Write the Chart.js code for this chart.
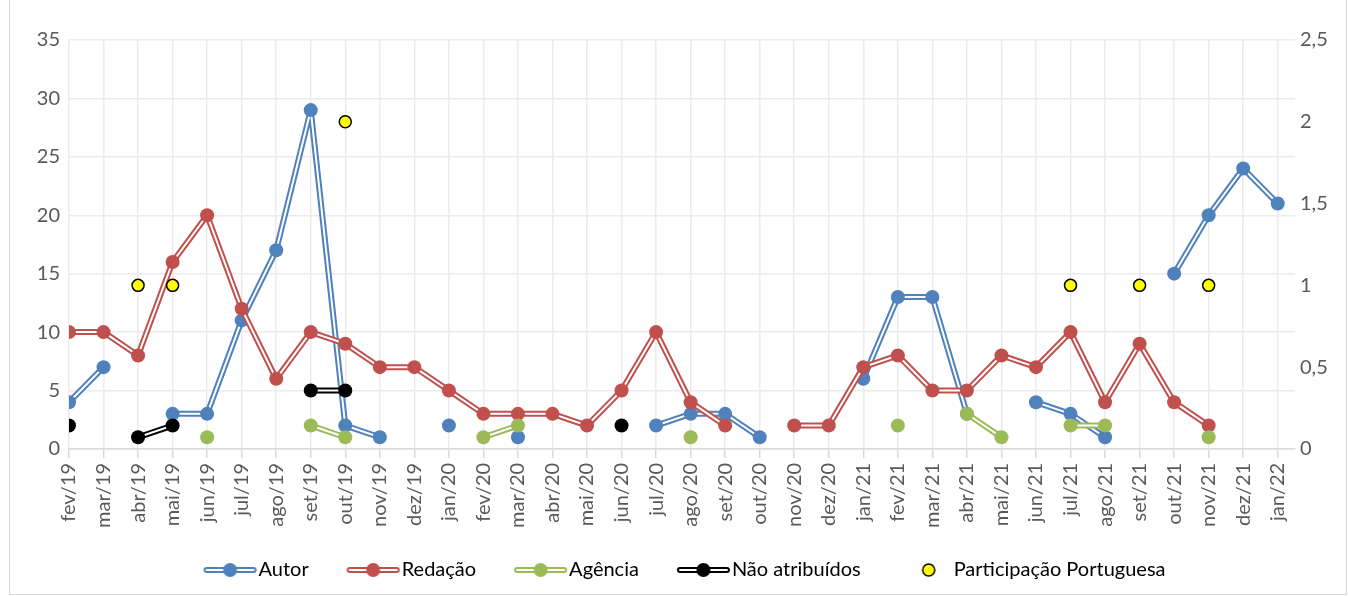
<!DOCTYPE html>
<html>
<head>
<meta charset="utf-8">
<script src="https://cdn.jsdelivr.net/npm/chart.js@4.4.1/dist/chart.umd.min.js"></script>
<style>
  html, body { margin: 0; padding: 0; background: #fff; }
  #frame { position: absolute; left: 9px; top: -1px; width: 1338px; height: 596px; border: 1px solid #d9d9d9; box-sizing: border-box; }
  #wrap { position: absolute; left: 0; top: 0; width: 1348px; height: 596px; }
</style>
</head>
<body>
<div id="frame"></div>
<div id="wrap"><canvas id="chart" width="1348" height="596"></canvas></div>
<script>
// months, fev/19 .. jan/22
const months = ['fev/19', 'mar/19', 'abr/19', 'mai/19', 'jun/19', 'jul/19', 'ago/19', 'set/19', 'out/19', 'nov/19', 'dez/19',
	'jan/20', 'fev/20', 'mar/20', 'abr/20', 'mai/20', 'jun/20', 'jul/20', 'ago/20', 'set/20', 'out/20', 'nov/20', 'dez/20',
	'jan/21', 'fev/21', 'mar/21', 'abr/21', 'mai/21', 'jun/21', 'jul/21', 'ago/21', 'set/21', 'out/21', 'nov/21', 'dez/21',
	'jan/22'];

const autor = [4, 7, null, 3, 3, 11, 17, 29, 2, 1, null,
	2, null, 1, null, null, null, 2, 3, 3, 1, null, null,
	6, 13, 13, 3, null, 4, 3, 1, null, 15, 20, 24,
	21];

const redacao = [10, 10, 8, 16, 20, 12, 6, 10, 9, 7, 7,
	5, 3, 3, 3, 2, 5, 10, 4, 2, null, 2, 2,
	7, 8, 5, 5, 8, 7, 10, 4, 9, 4, 2, null,
	null];

const agencia = [null, null, null, null, 1, null, null, 2, 1, null, null,
	null, 1, 2, null, null, null, null, 1, null, null, null, null,
	null, 2, null, 3, 1, null, 2, 2, null, null, 1, null,
	null];

const naoAtribuidos = [2, null, 1, 2, null, null, null, 5, 5, null, null,
	null, null, null, null, null, 2, null, null, null, null, null, null,
	null, null, null, null, null, null, null, null, null, null, null, null,
	null];

// right axis
const participacao = [null, null, 1, 1, null, null, null, null, 2, null, null,
	null, null, null, null, null, null, null, null, null, null, null, null,
	null, null, null, null, null, null, 1, null, 1, null, 1, null,
	null];

const leftTicks = [0, 5, 10, 15, 20, 25, 30, 35];
const rightTicks = [0, 0.5, 1, 1.5, 2, 2.5];

const textColor = '#595959';
const gridColor = '#ebebeb';
const axisColor = '#d9d9d9';
const fontFamily = 'Lato, "Noto Sans", sans-serif';
const fontSize = 20;

function toPoints(values) {
	return values.map((v, i) => ({ x: i, y: v }));
}

// Excel "double" line: thick coloured stroke, thin white core, markers on top
function doubleLine(label, values, color, base) {
	const pts = toPoints(values);
	return [
		{ label: label, data: pts, borderColor: color, borderWidth: 6, borderJoinStyle: 'round', pointRadius: 0, fill: false, order: base + 2, yAxisID: 'y' },
		{ label: label + ' core', data: pts, borderColor: '#ffffff', borderWidth: 2, borderJoinStyle: 'round', pointRadius: 0, fill: false, order: base + 1, yAxisID: 'y' },
		{ label: label + ' marks', data: pts, showLine: false, pointRadius: 7, pointHoverRadius: 7, pointBackgroundColor: color, pointBorderColor: color, pointBorderWidth: 0, order: base, yAxisID: 'y' }
	];
}

// legend icons: 74px canvas, drawing sits in the right part so it hugs the text
function lineIcon(color) {
	const c = document.createElement('canvas');
	c.width = 74;
	c.height = 16;
	const g = c.getContext('2d');
	g.lineCap = 'round';
	g.strokeStyle = color;
	g.lineWidth = 6;
	g.beginPath(); g.moveTo(23, 8); g.lineTo(70, 8); g.stroke();
	g.strokeStyle = '#ffffff';
	g.lineWidth = 2;
	g.beginPath(); g.moveTo(23, 8); g.lineTo(70, 8); g.stroke();
	g.fillStyle = color;
	g.beginPath(); g.arc(46.5, 8, 7, 0, Math.PI * 2); g.fill();
	return c;
}

function dotIcon() {
	const c = document.createElement('canvas');
	c.width = 74;
	c.height = 16;
	const g = c.getContext('2d');
	g.fillStyle = '#ffff00';
	g.strokeStyle = '#000000';
	g.lineWidth = 1.5;
	g.beginPath(); g.arc(50, 8, 6, 0, Math.PI * 2); g.fill(); g.stroke();
	return c;
}

const series = [
	{ label: 'Autor', data: autor, color: '#4f81bd', base: 40 },
	{ label: 'Redação', data: redacao, color: '#c0504d', base: 30 },
	{ label: 'Agência', data: agencia, color: '#9bbb59', base: 20 },
	{ label: 'Não atribuídos', data: naoAtribuidos, color: '#000000', base: 10 }
];

const datasets = [];
series.forEach(s => datasets.push(...doubleLine(s.label, s.data, s.color, s.base)));
datasets.push({
	label: 'Participação Portuguesa',
	data: toPoints(participacao),
	showLine: false,
	pointRadius: 6,
	pointHoverRadius: 6,
	pointBackgroundColor: '#ffff00',
	pointBorderColor: '#000000',
	pointBorderWidth: 1.5,
	order: 0,
	yAxisID: 'y2'
});

const legendItems = series.map((s, i) => ({
	text: s.label,
	pointStyle: lineIcon(s.color),
	fillStyle: s.color,
	strokeStyle: s.color,
	lineWidth: 0,
	hidden: false,
	datasetIndex: i * 3
})).concat([{
	text: 'Participação Portuguesa',
	pointStyle: dotIcon(),
	fillStyle: '#ffff00',
	strokeStyle: '#000000',
	lineWidth: 0,
	hidden: false,
	datasetIndex: datasets.length - 1
}]);

new Chart(document.getElementById('chart'), {
	type: 'line',
	data: { datasets: datasets },
	options: {
		responsive: false,
		animation: false,
		spanGaps: false,
		layout: { padding: { left: 10, right: 0, top: 40, bottom: 6 } },
		scales: {
			x: {
				type: 'linear',
				min: 0,
				max: 35.5,
				afterBuildTicks: scale => {
					scale.ticks = months.map((m, i) => ({ value: i }));
				},
				ticks: {
					autoSkip: false,
					maxRotation: 90,
					minRotation: 90,
					padding: 5,
					color: textColor,
					font: { family: fontFamily, size: fontSize },
					callback: v => months[v]
				},
				grid: { color: gridColor, tickColor: axisColor, tickLength: 9, lineWidth: 1.5 },
				border: { color: axisColor, width: 1.5 }
			},
			y: {
				position: 'left',
				min: 0,
				max: 35,
				afterBuildTicks: scale => {
					scale.ticks = leftTicks.map(v => ({ value: v }));
				},
				afterFit: scale => { scale.width = 59; },
				ticks: {
					padding: 9,
					color: textColor,
					font: { family: fontFamily, size: fontSize }
				},
				grid: { color: gridColor, drawTicks: false, lineWidth: 1.5 },
				border: { display: false }
			},
			y2: {
				position: 'right',
				min: 0,
				max: 2.5,
				afterBuildTicks: scale => {
					scale.ticks = rightTicks.map(v => ({ value: v }));
				},
				afterFit: scale => { scale.width = 53; },
				ticks: {
					padding: 5,
					color: textColor,
					font: { family: fontFamily, size: fontSize },
					callback: v => String(v).replace('.', ',')
				},
				grid: { drawOnChartArea: false, drawTicks: false },
				border: { display: false }
			}
		},
		plugins: {
			tooltip: { enabled: false },
			legend: {
				position: 'bottom',
				labels: {
					usePointStyle: true,
					pointStyleWidth: 56,
					padding: 27,
					color: textColor,
					font: { family: fontFamily, size: fontSize },
					generateLabels: () => legendItems
				}
			}
		}
	}
});
</script>
</body>
</html>
